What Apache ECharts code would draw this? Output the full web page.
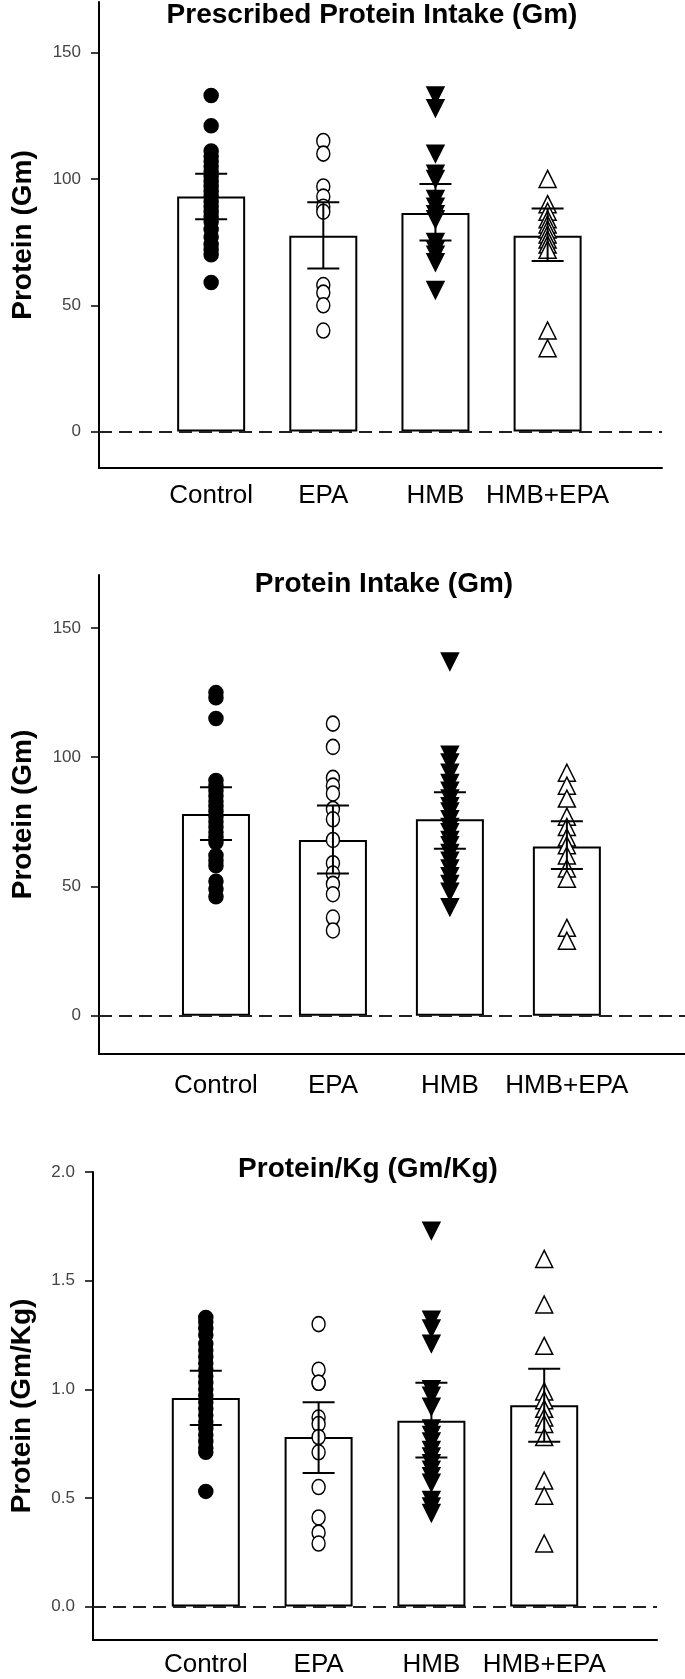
<!DOCTYPE html>
<html>
<head>
<meta charset="utf-8">
<script src="https://cdn.jsdelivr.net/npm/echarts@6/dist/echarts.min.js"></script>
<style>
html,body{margin:0;padding:0;background:#fff;}
#chart{width:685px;height:1679px;}
</style>
</head>
<body>
<div id="chart"></div>
<script>
// ---------- data ----------
const categories = ['Control', 'EPA', 'HMB', 'HMB+EPA'];

const panelTitles = ['Prescribed Protein Intake (Gm)', 'Protein Intake (Gm)', 'Protein/Kg (Gm/Kg)'];
const yAxisTitles = ['Protein (Gm)', 'Protein (Gm)', 'Protein (Gm/Kg)'];
const yTicks12 = [0, 50, 100, 150];
const yTicks3 = [0, 0.5, 1.0, 1.5, 2.0];

// Panel 1: Prescribed protein intake
const p1Control = [133, 121, 111, 109, 107, 105, 103, 101, 99, 97, 95, 93, 91, 89, 87, 85, 83, 80, 77, 74, 72, 70, 59];
const p1EPA     = [115, 110, 97, 93, 89, 87, 58, 55, 50, 40];
const p1HMB     = [133, 128, 110, 102, 100, 92, 89, 86, 84, 75, 72, 70, 67, 56];
const p1HMBEPA  = [100, 90, 87, 84, 82, 80, 78, 76, 74, 72, 40, 33];
const p1Mean = [93, 77.5, 86.5, 77.5];
const p1Low  = [84, 64.5, 75.6, 67.5];
const p1High = [102, 90.8, 98, 88.3];

// Panel 2: Protein intake
const p2Control = [125, 123, 115, 91, 89, 87, 85, 83, 81, 79, 77, 75, 73, 71, 69, 67, 62, 60, 58, 52, 49, 46];
const p2EPA     = [113, 104, 92, 89, 86, 80, 76, 68, 59, 55, 51, 47, 38, 33];
const p2HMB     = [137, 101, 98, 94, 90, 87, 84, 81, 79, 76, 73, 71, 68, 66, 63, 60, 57, 54, 51, 48, 42];
const p2HMBEPA  = [94, 89, 84, 77, 73, 69, 66, 62, 57, 53, 34, 29];
const p2Mean = [78, 68, 76, 65.5];
const p2Low  = [68, 55, 64.6, 56.8];
const p2High = [88.4, 81.3, 86.5, 75.2];

// Panel 3: Protein per kg
const p3Control = [1.33, 1.31, 1.28, 1.25, 1.21, 1.18, 1.15, 1.12, 1.09, 1.06, 1.03, 1.0, 0.97, 0.94, 0.91, 0.88, 0.85, 0.82, 0.79, 0.76, 0.73, 0.71, 0.53];
const p3EPA     = [1.30, 1.09, 1.03, 1.03, 0.87, 0.84, 0.78, 0.71, 0.55, 0.41, 0.34, 0.29];
const p3HMB     = [1.73, 1.32, 1.28, 1.21, 1.0, 0.97, 0.92, 0.82, 0.79, 0.76, 0.72, 0.69, 0.66, 0.63, 0.6, 0.57, 0.49, 0.46, 0.43];
const p3HMBEPA  = [1.60, 1.39, 1.20, 0.99, 0.95, 0.91, 0.87, 0.84, 0.78, 0.58, 0.51, 0.29];
const p3Mean = [0.96, 0.78, 0.855, 0.927];
const p3Low  = [0.835, 0.615, 0.686, 0.758];
const p3High = [1.085, 0.94, 1.03, 1.094];

// ---------- build ----------
const FONT = 'Liberation Sans, Arial, sans-serif';
const panels = [
  {pts: [p1Control, p1EPA, p1HMB, p1HMBEPA], mean: p1Mean, low: p1Low, high: p1High,
   grid: {left: 99, top: 2, width: 563, height: 466}, yMin: -14.4, yMax: 170, xMax: 5.02,
   ticks: yTicks12, dec: 0, catMargin: 15, nameGap: 62, title: {x: 372, y: 1}},
  {pts: [p2Control, p2EPA, p2HMB, p2HMBEPA], mean: p2Mean, low: p2Low, high: p2High,
   grid: {left: 99, top: 575, width: 586, height: 479}, yMin: -14.8, yMax: 170.5, xMax: 5.01,
   ticks: yTicks12, dec: 0, catMargin: 19, nameGap: 62, title: {x: 384, y: 570}},
  {pts: [p3Control, p3EPA, p3HMB, p3HMBEPA], mean: p3Mean, low: p3Low, high: p3High,
   grid: {left: 92, top: 1172, width: 565, height: 468}, yMin: -0.154, yMax: 2.0, xMax: 5.0,
   ticks: yTicks3, dec: 1, catMargin: 12, nameGap: 57, title: {x: 368, y: 1155}}
];

const markerStyles = [
  {symbol: 'circle', size: 14, rotate: 0, color: '#000', border: '#000'},
  {symbol: 'circle', size: [13, 15], rotate: 0, color: '#fff', border: '#000'},
  {symbol: 'triangle', size: 17, rotate: 180, color: '#000', border: '#000'},
  {symbol: 'triangle', size: 17, rotate: 0, color: '#fff', border: '#000'}
];

const grids = [], xAxes = [], yAxes = [], series = [], titles = [];

panels.forEach((p, i) => {
  grids.push(Object.assign({containLabel: false}, p.grid));
  titles.push({
    text: panelTitles[i], left: p.title.x, top: p.title.y, textAlign: 'center', padding: 0,
    textStyle: {fontFamily: FONT, fontSize: 28, fontWeight: 'bold', color: '#000'}
  });
  xAxes.push({
    type: 'value', gridIndex: i, min: 0, max: p.xMax,
    axisLine: {show: true, onZero: false, lineStyle: {color: '#000', width: 2}},
    axisTick: {show: false},
    splitLine: {show: false},
    axisLabel: {
      customValues: [1, 2, 3, 4], margin: p.catMargin,
      formatter: v => categories[Math.round(v) - 1] || '',
      fontFamily: FONT, fontSize: 26, color: '#000'
    }
  });
  yAxes.push({
    type: 'value', gridIndex: i, min: p.yMin, max: p.yMax,
    name: yAxisTitles[i], nameLocation: 'middle', nameRotate: 90, nameGap: p.nameGap,
    nameTextStyle: {fontFamily: FONT, fontSize: 28, fontWeight: 'bold', color: '#000'},
    axisLine: {show: true, onZero: false, lineStyle: {color: '#000', width: 2}},
    axisTick: {show: true, inside: false, length: 8, customValues: p.ticks, lineStyle: {color: '#000', width: 1.5}},
    splitLine: {show: false},
    axisLabel: {
      customValues: p.ticks, margin: 18,
      formatter: v => v.toFixed(p.dec),
      fontFamily: FONT, fontSize: 17, color: '#444'
    }
  });
  // bars
  series.push({
    type: 'bar', xAxisIndex: i, yAxisIndex: i, barWidth: 68, z: 2,
    data: p.mean.map((m, k) => [k + 1, m]),
    itemStyle: {color: '#fff', borderColor: '#000', borderWidth: 2},
    silent: true
  });
  // individual points
  p.pts.forEach((arr, k) => {
    const ms = markerStyles[k];
    series.push({
      type: 'scatter', xAxisIndex: i, yAxisIndex: i, z: 3,
      symbol: ms.symbol, symbolSize: ms.size, symbolRotate: ms.rotate,
      data: arr.map(v => [k + 1, v]),
      itemStyle: {color: ms.color, borderColor: ms.border, borderWidth: 1.5, opacity: 1},
      silent: true
    });
  });
  // error bars + zero dashed line
  series.push({
    type: 'custom', xAxisIndex: i, yAxisIndex: i, z: 4,
    data: p.mean.map((m, k) => [k + 1, p.low[k], p.high[k]]),
    renderItem: (params, api) => {
      const x = api.value(0);
      const lo = api.coord([x, api.value(1)]);
      const hi = api.coord([x, api.value(2)]);
      const hw = 16;
      const st = {stroke: '#000', lineWidth: 2};
      return {type: 'group', children: [
        {type: 'line', shape: {x1: lo[0], y1: lo[1], x2: hi[0], y2: hi[1]}, style: st},
        {type: 'line', shape: {x1: lo[0] - hw, y1: lo[1], x2: lo[0] + hw, y2: lo[1]}, style: st},
        {type: 'line', shape: {x1: hi[0] - hw, y1: hi[1], x2: hi[0] + hw, y2: hi[1]}, style: st}
      ]};
    },
    markLine: {
      silent: true, symbol: ['none', 'none'], label: {show: false},
      lineStyle: {color: '#222', width: 2, type: [13, 7]},
      data: [{yAxis: 0}]
    }
  });
});

const chart = echarts.init(document.getElementById('chart'), null, {renderer: 'canvas'});
chart.setOption({
  animation: false,
  backgroundColor: '#fff',
  title: titles,
  grid: grids,
  xAxis: xAxes,
  yAxis: yAxes,
  series: series
});
</script>
</body>
</html>
